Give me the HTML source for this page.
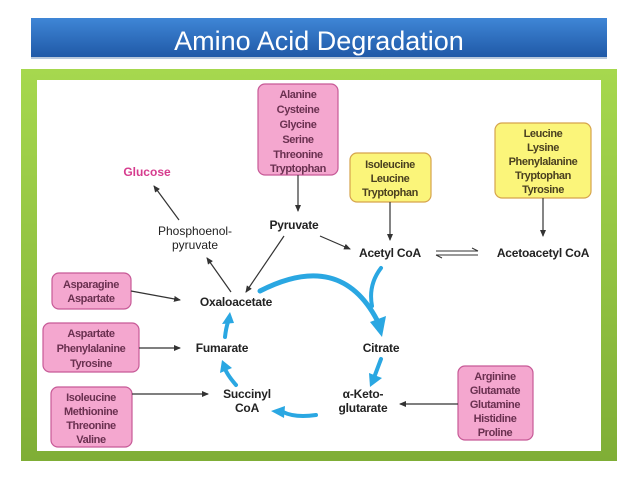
<!DOCTYPE html>
<html><head><meta charset="utf-8"><style>
html,body{margin:0;padding:0;background:#fff;}
body{width:638px;height:479px;position:relative;overflow:hidden;font-family:"Liberation Sans",sans-serif;}
</style></head><body>
<svg width="638" height="479" viewBox="0 0 638 479" xmlns="http://www.w3.org/2000/svg" style="position:absolute;left:0;top:0">
<defs>
<linearGradient id="tg" x1="0" y1="0" x2="0" y2="1"><stop offset="0" stop-color="#3f86d6"/><stop offset="1" stop-color="#1f58a6"/></linearGradient>
<linearGradient id="gg" x1="0" y1="0" x2="0" y2="1"><stop offset="0" stop-color="#a6d84e"/><stop offset="1" stop-color="#7fae36"/></linearGradient>
<marker id="ah" markerWidth="8" markerHeight="8" refX="6" refY="3" orient="auto" markerUnits="userSpaceOnUse"><path d="M0,0 L7,3 L0,6 Z" fill="#333"/></marker>
</defs>
<rect x="31" y="18" width="576" height="40" fill="url(#tg)"/>
<rect x="31" y="57" width="576" height="2" fill="#b9c9dc"/>
<text x="319" y="50" text-anchor="middle" font-size="27" fill="#fff">Amino Acid Degradation</text>
<rect x="21" y="69" width="596" height="392" fill="url(#gg)"/>
<rect x="37" y="80" width="564" height="371" fill="#fff"/>

<g fill="#f4a7cf" stroke="#c75a97" stroke-width="1.2">
<rect x="258" y="84" width="80" height="91" rx="7"/>
<rect x="52" y="273" width="79" height="36" rx="7"/>
<rect x="43" y="323" width="96" height="49" rx="7"/>
<rect x="51" y="387" width="81" height="60" rx="7"/>
<rect x="458" y="366" width="75" height="74" rx="7"/>
</g>
<g fill="#fbf57a" stroke="#d6a44c" stroke-width="1.2">
<rect x="350" y="153" width="81" height="49" rx="7"/>
<rect x="495" y="123" width="96" height="75" rx="7"/>
</g>

<g font-size="11" fill="#6a3050" text-anchor="middle" font-weight="bold" style="letter-spacing:-0.4px">
<text x="298" y="98">Alanine</text><text x="298" y="113">Cysteine</text><text x="298" y="128">Glycine</text><text x="298" y="143">Serine</text><text x="298" y="158">Threonine</text><text x="298" y="172">Tryptophan</text>
<text x="91" y="288">Asparagine</text><text x="91" y="302">Aspartate</text>
<text x="91" y="337">Aspartate</text><text x="91" y="352">Phenylalanine</text><text x="91" y="367">Tyrosine</text>
<text x="91" y="401">Isoleucine</text><text x="91" y="415">Methionine</text><text x="91" y="429">Threonine</text><text x="91" y="443">Valine</text>
<text x="495" y="380">Arginine</text><text x="495" y="394">Glutamate</text><text x="495" y="408">Glutamine</text><text x="495" y="422">Histidine</text><text x="495" y="436">Proline</text>
</g>
<g font-size="11" fill="#4a4020" text-anchor="middle" font-weight="bold" style="letter-spacing:-0.4px">
<text x="390" y="168">Isoleucine</text><text x="390" y="182">Leucine</text><text x="390" y="196">Tryptophan</text>
<text x="543" y="137">Leucine</text><text x="543" y="151">Lysine</text><text x="543" y="165">Phenylalanine</text><text x="543" y="179">Tryptophan</text><text x="543" y="193">Tyrosine</text>
</g>

<text x="147" y="176" font-size="12" font-weight="bold" fill="#d63c8e" text-anchor="middle">Glucose</text>
<g font-size="12" fill="#222" text-anchor="middle">
<text x="195" y="235">Phosphoenol-</text><text x="195" y="249">pyruvate</text>
</g>
<g font-size="12" font-weight="bold" fill="#222" text-anchor="middle" style="letter-spacing:-0.2px">
<text x="294" y="229">Pyruvate</text>
<text x="390" y="257">Acetyl CoA</text>
<text x="543" y="257">Acetoacetyl CoA</text>
<text x="236" y="306">Oxaloacetate</text>
<text x="222" y="352">Fumarate</text>
<text x="381" y="352">Citrate</text>
<text x="247" y="398">Succinyl</text><text x="247" y="412">CoA</text>
<text x="363" y="398">α-Keto-</text><text x="363" y="412">glutarate</text>
</g>

<g stroke="#333" stroke-width="1.2" fill="none" marker-end="url(#ah)">
<line x1="179" y1="220" x2="154" y2="186"/>
<line x1="231" y1="292" x2="207" y2="258"/>
<line x1="284" y1="236" x2="246" y2="292"/>
<line x1="298" y1="175" x2="298" y2="211"/>
<line x1="320" y1="236" x2="350" y2="249"/>
<line x1="390" y1="202" x2="390" y2="240"/>
<line x1="543" y1="198" x2="543" y2="236"/>
<line x1="131" y1="291" x2="180" y2="300"/>
<line x1="139" y1="348" x2="180" y2="348"/>
<line x1="132" y1="394" x2="208" y2="394"/>
<line x1="458" y1="404" x2="400" y2="404"/>
</g>
<g stroke="#333" stroke-width="1" fill="none">
<line x1="436" y1="251" x2="478" y2="251"/><path d="M472,248 L478,251"/>
<line x1="436" y1="255" x2="478" y2="255"/><path d="M436,255 L442,258"/>
</g>

<g stroke="#2aa7e2" fill="none" stroke-linecap="round">
<path d="M260,291 Q340,250 377,320" stroke-width="5"/>
<path d="M381,268 Q368,285 372,306" stroke-width="4"/>
<path d="M381,359 L375,375" stroke-width="4"/>
<path d="M316,415 Q295,418 283,412" stroke-width="4"/>
<path d="M236,385 Q229,377 226,371" stroke-width="4"/>
<path d="M225,337 Q226,328 228,322" stroke-width="4"/>
</g>
<g fill="#2aa7e2">
<path d="M370,322 L386,316 L382,337 Z"/>
<path d="M369,373 L382,378 L370,387 Z"/>
<path d="M285,406 L284,418 L271,411 Z"/>
<path d="M220,373 L232,368 L222,360 Z"/>
<path d="M222,324 L234,323 L230,312 Z"/>
</g>
</svg>
</body></html>
